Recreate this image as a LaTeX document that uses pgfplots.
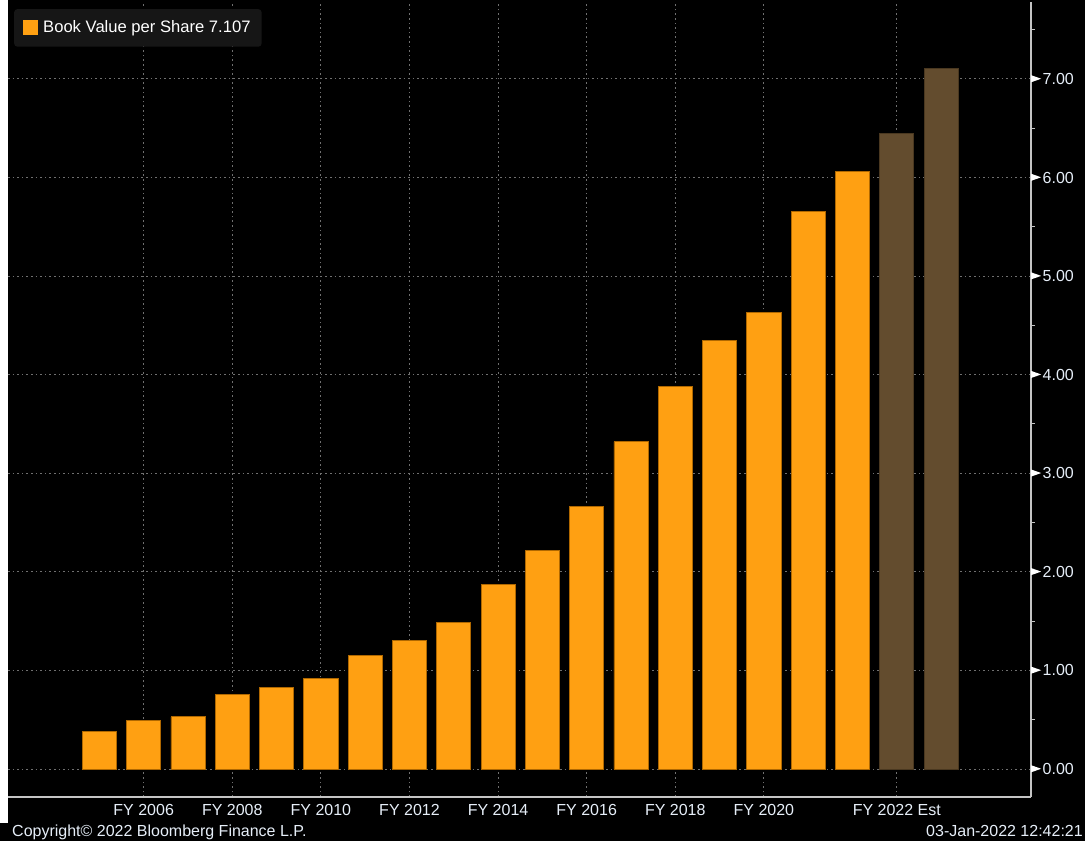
\documentclass[border=0pt]{standalone}
\usepackage{fontspec}
\setmainfont{Liberation Sans}
\usepackage{pgfplots}
\pgfplotsset{compat=1.18}
\definecolor{barorange}{HTML}{FFA012}
\definecolor{baredge}{HTML}{B06800}
\definecolor{barbrown}{HTML}{634C2E}
\definecolor{brownedge}{HTML}{4A3820}
\definecolor{gridgray}{HTML}{707070}
\definecolor{axisgray}{HTML}{C4C4C4}
\definecolor{labelwhite}{HTML}{E6EEF8}
\definecolor{legendbg}{HTML}{161616}
\begin{document}
\fontsize{16pt}{19pt}\selectfont
\begin{tikzpicture}
\useasboundingbox (0pt,0pt) rectangle (1085pt,841pt);
\fill[black] (0pt,0pt) rectangle (1085pt,841pt);
\fill[white] (0pt,18pt) rectangle (8pt,841pt);
\begin{axis}[
  at={(8pt,44pt)}, anchor=south west,
  scale only axis, width=1023pt, height=795pt,
  xmin=-1.063, xmax=22.03, ymin=-0.284, ymax=7.781,
  ybar, bar width=0.77, bar shift=0pt,
  axis x line*=bottom, axis y line*=right,
  axis line style={axisgray, line width=1.3pt, -},
  /pgf/number format/assume math mode=true,
  xtick={2,4,6,8,10,12,14,16,19},
  xticklabels={FY 2006,FY 2008,FY 2010,FY 2012,FY 2014,FY 2016,FY 2018,FY 2020,FY 2022 Est},
  xticklabel style={text=labelwhite, inner sep=0pt, anchor=north, yshift=-7pt, font=\fontsize{16pt}{19pt}\selectfont},
  ytick={0,1,2,3,4,5,6,7},
  minor ytick={0.5,1.5,2.5,3.5,4.5,5.5,6.5,7.5},
  yticklabel={\tikz[baseline=-0.36em]\fill[white] (0pt,3.5pt)--(10pt,0pt)--(0pt,-3.5pt)--cycle;\hspace{1.5pt}\pgfmathprintnumber[fixed,fixed zerofill,precision=2]{\tick}},
  yticklabel style={text=labelwhite, inner sep=0pt, anchor=west, font=\fontsize{16pt}{19pt}\selectfont},
  tick align=outside,
  major tick length=0pt, minor tick length=4pt,
  every minor tick/.append style={axisgray, line width=1pt},
  grid=major,
  major grid style={gridgray, dash pattern=on 1.6pt off 3pt, line width=1pt},
  legend style={at={(0.00587,0.9912)}, anchor=north west, fill=legendbg, draw=none,
    rounded corners=3pt, text=white, inner xsep=9pt, inner ysep=9.5pt,
    font=\fontsize{16.6pt}{19pt}\selectfont},
  legend cell align=left,
]
\addplot[fill=barorange, draw=baredge, line width=0.8pt,
  legend image code/.code={\fill[barorange, draw=none, sharp corners] (0pt,-7.5pt) rectangle (15pt,7.5pt); \path[draw=none, fill=none] (0pt,0pt) -- (18pt,0pt);}]
  coordinates {(1,0.38) (2,0.49) (3,0.53) (4,0.754) (5,0.83) (6,0.916) (7,1.15) (8,1.306) (9,1.488) (10,1.87) (11,2.215) (12,2.665) (13,3.32) (14,3.883) (15,4.35) (16,4.633) (17,5.658) (18,6.06)};
\addlegendentry{Book Value per Share 7.107}
\addplot[fill=barbrown, draw=brownedge, line width=0.8pt, forget plot]
  coordinates {(19,6.45) (20,7.107)};
\end{axis}
\node[anchor=base west, text=labelwhite, inner sep=0pt] at (12pt,4pt) {Copyright© 2022 Bloomberg Finance L.P.};
\node[anchor=base east, text=labelwhite, inner sep=0pt] at (1083pt,4pt) {03-Jan-2022 12:42:21};
\end{tikzpicture}
\end{document}
